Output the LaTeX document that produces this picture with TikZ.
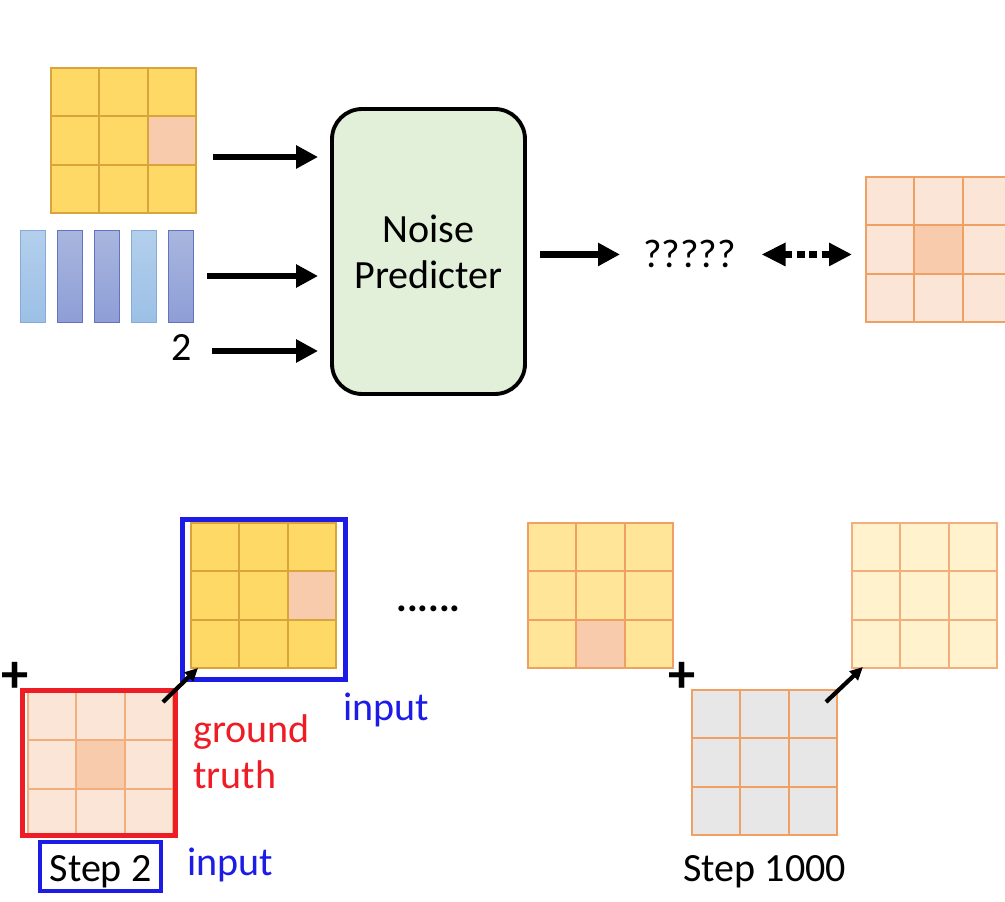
\documentclass[tikz,border=0pt]{standalone}
\usepackage{fontspec}
\setmainfont{Carlito}
\usetikzlibrary{arrows.meta,calc,positioning}
\definecolor{goldtile}{HTML}{FFD966}
\definecolor{goldline}{HTML}{D9A43C}
\definecolor{peachtile}{HTML}{FBE5D6}
\definecolor{peachline}{HTML}{F2AE7C}
\definecolor{salmon}{HTML}{F8CBAD}
\definecolor{paleyellow}{HTML}{FFE598}
\definecolor{creamtile}{HTML}{FFF2CC}
\definecolor{greytile}{HTML}{E8E7E7}
\definecolor{orangeline}{HTML}{EFA062}
\definecolor{mintgreen}{HTML}{E2EFD9}
\definecolor{barpaletop}{HTML}{B3CFEC}
\definecolor{barpalebot}{HTML}{9CC0E6}
\definecolor{bardeeptop}{HTML}{A8B6DF}
\definecolor{bardeepbot}{HTML}{8E9ED6}
\definecolor{barpaleedge}{HTML}{86ABDA}
\definecolor{bardeepedge}{HTML}{6373C0}
\definecolor{inkblue}{HTML}{1C1CE6}
\definecolor{inkred}{HTML}{EE1C25}
\tikzset{
  tile/.style={
    anchor=north west,
    minimum width=2.9cm,
    minimum height=2.9cm,
    inner sep=0pt,
    outer sep=0pt
  },
  bar/.style={
    anchor=north west,
    minimum width=0.5cm,
    minimum height=1.84cm,
    inner sep=0pt,
    line width=0.7pt
  },
  barpale/.style={bar, top color=barpaletop, bottom color=barpalebot, draw=barpaleedge},
  bardeep/.style={bar, top color=bardeeptop, bottom color=bardeepbot, draw=bardeepedge},
  predictor/.style={
    draw=black,
    line width=2.2pt,
    fill=mintgreen,
    rounded corners=0.6cm,
    minimum width=3.86cm,
    minimum height=5.7cm,
    align=center,
    inner sep=0pt
  },
  lbl/.style={inner sep=0pt, anchor=base west},
  framebox/.style={line width=2.8pt, inner sep=0pt},
  steptag/.style={
    draw=inkblue,
    line width=2.3pt,
    minimum width=2.42cm,
    minimum height=0.98cm,
    inner sep=0pt,
    text height=0.62cm,
    text depth=0pt
  },
  plus/.style={inner sep=0pt, font=\bfseries\fontsize{31}{34}\selectfont},
  bigarrow/.style={
    -{Triangle[length=0.44cm, width=0.44cm]},
    line width=3.8pt
  },
  dotarrow/.style={
    {Triangle[length=0.48cm, width=0.44cm]}-{Triangle[length=0.46cm, width=0.44cm]},
    line width=3.8pt,
    dash pattern=on 0.16cm off 0.09cm
  },
  smallarrow/.style={
    -{Triangle[length=0.26cm, width=0.24cm]},
    line width=2.4pt
  }
}
% 3x3 tile: name, x, y (top left), fill, line colour, column, row and colour of the odd cell
\newcommand{\tilegrid}[8]{%
  \node[tile, fill=#4] (#1) at (#2,#3) {};
  \path[fill=#8] ($(#1.north west)+({(#6-1)*145/3},{(#7-1)*145/3})$) rectangle ++(145/3,145/3);
  \foreach \gi in {1,2} {
    \draw[#5, line width=1pt] ($(#1.north west)+(\gi*145/3,0)$) -- ++(0,145);
    \draw[#5, line width=1pt] ($(#1.north west)+(0,\gi*145/3)$) -- ++(145,0);
  }
  \draw[#5, line width=1pt] (#1.north west) rectangle (#1.south east);
}

\begin{document}
\begin{tikzpicture}[x=0.02cm, y=-0.02cm, font=\fontsize{22.8}{26.2}\selectfont]
\useasboundingbox (0,0) rectangle (1005,902);

% inputs of the noise predicter
\tilegrid{tg}{51}{68}{goldtile}{goldline}{3}{2}{salmon}
\foreach \bx/\bs [count=\bi] in {20/barpale, 57/bardeep, 94/bardeep, 131/barpale, 168/bardeep}
  \node[\bs] (bar\bi) at (\bx,230) {};
\node[lbl, anchor=base] (two) at (182,361) {2};

\node[predictor] (np) at (428.5,251.5) {Noise\\Predicter};

\coordinate (in1) at (213,157);
\coordinate (in2) at (207,276);
\coordinate (in3) at (212,351);
\foreach \c in {in1,in2,in3}
  \draw[bigarrow, shorten >=0.24cm] (\c) -- (\c -| np.west);

% output and target
\node[lbl] (q) at (643,268) {?????};
\tilegrid{tr}{866}{177}{peachtile}{orangeline}{2}{2}{salmon}
\draw[bigarrow, shorten <=0.26cm, shorten >=0.46cm] (np.east |- q.west) -- (q.west);
\draw[dotarrow, shorten <=0.5cm, shorten >=0.28cm] (q.east) -- (q.east -| tr.west);

% step 2
\tilegrid{gb}{191}{523}{goldtile}{goldline}{3}{2}{salmon}
\node[framebox, draw=inkblue, minimum width=3.26cm, minimum height=3.2cm] (inbox) at (264,599.5) {};
\tilegrid{gr}{28}{692}{peachtile}{peachline}{2}{2}{salmon}
\node[framebox, draw=inkred, minimum width=3.06cm, minimum height=2.9cm] (gtbox) at (99,763) {};
\node[plus] (plusa) at (15,677) {+};
\draw[smallarrow] ($(gtbox.north east)+(-15,14)$) -- ($(inbox.south west)+(18,-14)$);
\node[lbl, text=inkblue] (inlab1) at (343,720) {input};
\node[lbl, text=inkred, anchor=west, align=left] (gtlab) at (193,752) {ground\\truth};
\node[steptag] (s2) at (100.5,866.5) {Step 2};
\node[lbl, text=inkblue] (inlab2) at (187,875) {input};

\node[lbl] (dots) at (396,611) {\bfseries ......};

% step 1000
\tilegrid{ga}{528}{523}{paleyellow}{orangeline}{2}{3}{salmon}
\node[plus] (plusb) at (682,677) {+};
\tilegrid{gg}{692}{690}{greytile}{orangeline}{1}{1}{greytile}
\tilegrid{gc}{852}{523}{creamtile}{peachline}{1}{1}{creamtile}
\draw[smallarrow] ($(gg.north east)+(-11,12)$) -- ($(gc.south west)+(11,-1)$);
\node[lbl] (s1000) at (683,881) {Step 1000};
\end{tikzpicture}
\end{document}
